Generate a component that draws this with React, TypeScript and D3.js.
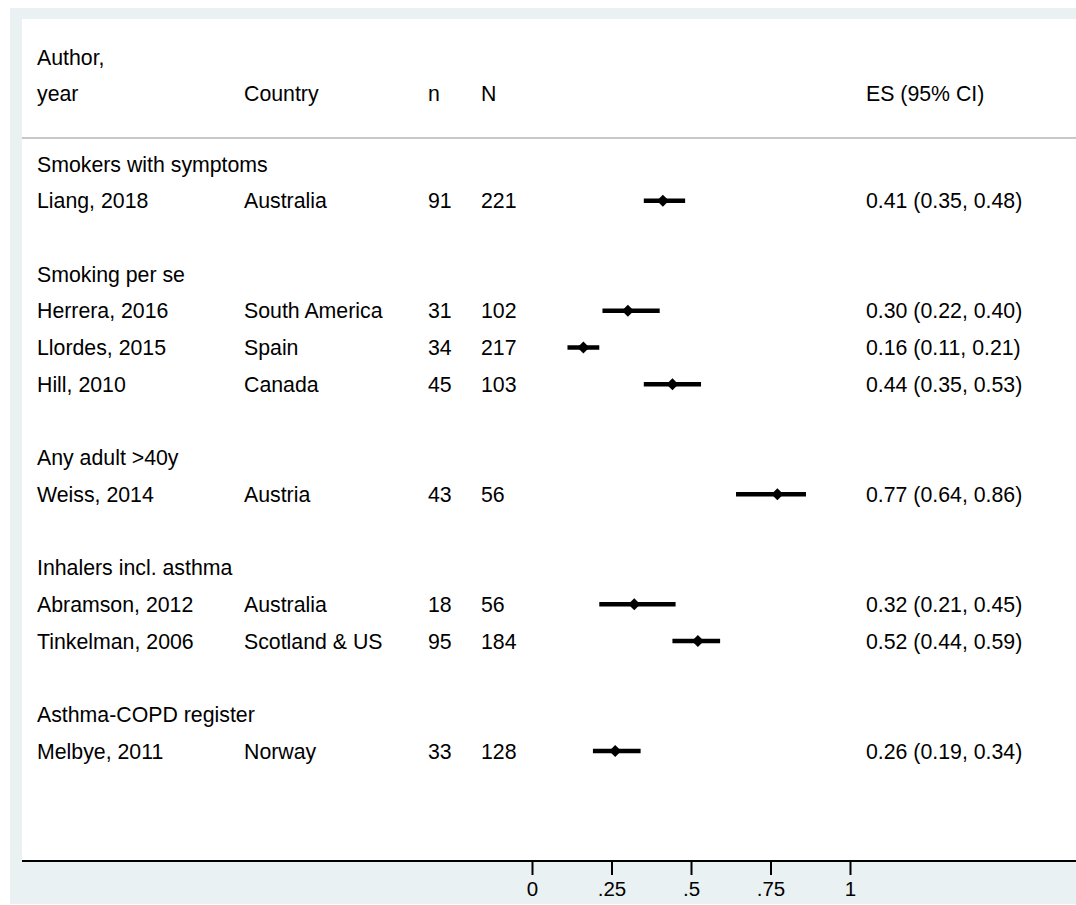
import React, { useEffect, useRef } from 'react';
import * as d3 from 'd3';

const groups = [
  "Smokers with symptoms",
  "Smoking per se",
  "Any adult >40y",
  "Inhalers incl. asthma",
  "Asthma-COPD register",
];
const studyGroup = [0, 1, 1, 1, 2, 3, 3, 4];
const authors = [
  "Liang, 2018", "Herrera, 2016", "Llordes, 2015", "Hill, 2010",
  "Weiss, 2014", "Abramson, 2012", "Tinkelman, 2006", "Melbye, 2011",
];
const countries = [
  "Australia", "South America", "Spain", "Canada",
  "Austria", "Australia", "Scotland & US", "Norway",
];
const nCases = [91, 31, 34, 45, 43, 18, 95, 33];
const nTotal = [221, 102, 217, 103, 56, 56, 184, 128];
const es = [0.41, 0.30, 0.16, 0.44, 0.77, 0.32, 0.52, 0.26];
const ciLow = [0.35, 0.22, 0.11, 0.35, 0.64, 0.21, 0.44, 0.19];
const ciHigh = [0.48, 0.40, 0.21, 0.53, 0.86, 0.45, 0.59, 0.34];
const ticks = [0, 0.25, 0.5, 0.75, 1];
const tickLabels = ["0", ".25", ".5", ".75", "1"];

function ForestPlot() {
  const svgRef = useRef<SVGSVGElement>(null);

  useEffect(() => {
    const width = 1076;
    const height = 905;
    const font = "'Liberation Sans', Arial, sans-serif";
    const fs = 21.3;

    const svg = d3.select(svgRef.current)
      .attr("width", width)
      .attr("height", height);
    svg.selectAll("*").remove();

    // build the row list: group title, its studies, then a blank row
    const rows: { type: string; i: number }[] = [];
    groups.forEach((g, gi) => {
      rows.push({ type: "group", i: gi });
      studyGroup.forEach((sg, si) => {
        if (sg === gi) rows.push({ type: "study", i: si });
      });
      if (gi < groups.length - 1) rows.push({ type: "blank", i: -1 });
    });

    const y = d3.scaleLinear().domain([0, rows.length - 1]).range([164, 751]);
    const x = d3.scaleLinear().domain([0, 1]).range([532.5, 850.5]);

    // background
    svg.append("rect").attr("x", 10).attr("y", 8).attr("width", width - 10).attr("height", 896)
      .attr("fill", "#eaf1f3");
    svg.append("rect").attr("x", 22).attr("y", 19).attr("width", width - 22).attr("height", 842)
      .attr("fill", "#ffffff");

    const txt = (sx: number, sy: number, s: string, anchor = "start") =>
      svg.append("text")
        .attr("x", sx).attr("y", sy).attr("dy", "0.36em")
        .attr("font-family", font).attr("font-size", fs)
        .attr("fill", "#000").attr("text-anchor", anchor)
        .text(s);

    // header
    txt(37, 57, "Author,");
    txt(37, 93, "year");
    txt(244, 93, "Country");
    txt(428, 93, "n");
    txt(481, 93, "N");
    txt(866, 93, "ES (95% CI)");

    svg.append("line").attr("x1", 22).attr("x2", width).attr("y1", 138).attr("y2", 138)
      .attr("stroke", "#c8c8c8").attr("stroke-width", 2);

    rows.forEach((r, ri) => {
      const ry = y(ri);
      if (r.type === "group") {
        txt(37, ry, groups[r.i]);
      } else if (r.type === "study") {
        const i = r.i;
        txt(37, ry, authors[i]);
        txt(244, ry, countries[i]);
        txt(428, ry, String(nCases[i]));
        txt(481, ry, String(nTotal[i]));
        txt(866, ry, `${es[i].toFixed(2)} (${ciLow[i].toFixed(2)}, ${ciHigh[i].toFixed(2)})`);
        svg.append("line")
          .attr("x1", x(ciLow[i])).attr("x2", x(ciHigh[i]))
          .attr("y1", ry).attr("y2", ry)
          .attr("stroke", "#000").attr("stroke-width", 4.5);
        const cx = x(es[i]);
        const d = 6;
        svg.append("path")
          .attr("d", `M${cx},${ry - d}L${cx + d},${ry}L${cx},${ry + d}L${cx - d},${ry}Z`)
          .attr("fill", "#000");
      }
    });

    // x axis
    svg.append("line").attr("x1", 22).attr("x2", width).attr("y1", 861).attr("y2", 861)
      .attr("stroke", "#000").attr("stroke-width", 2);
    ticks.forEach((t, ti) => {
      svg.append("line").attr("x1", x(t)).attr("x2", x(t)).attr("y1", 861).attr("y2", 875)
        .attr("stroke", "#000").attr("stroke-width", 2);
      svg.append("text")
        .attr("x", x(t)).attr("y", 889).attr("dy", "0.36em")
        .attr("font-family", font).attr("font-size", 20.5)
        .attr("text-anchor", "middle").attr("fill", "#000")
        .text(tickLabels[ti]);
    });
  }, []);

  return (
    <svg ref={svgRef} style={{ position: "absolute", left: 0, top: 0, display: "block" }}></svg>
  );
}

export default function App() {
  return <ForestPlot />;
}
